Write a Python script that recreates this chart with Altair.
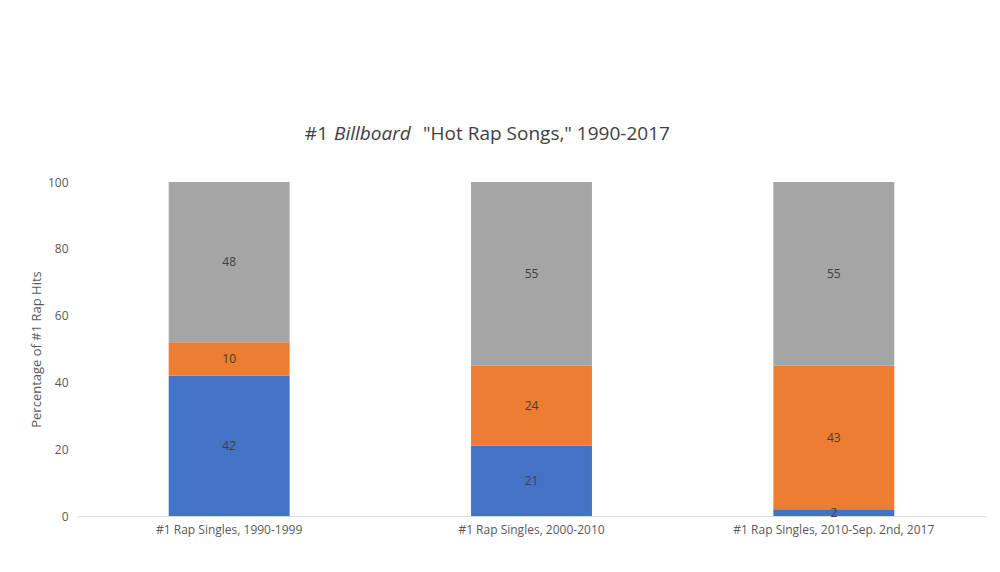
import altair as alt
import pandas as pd

categories = ["#1 Rap Singles, 1990-1999", "#1 Rap Singles, 2000-2010", "#1 Rap Singles, 2010-Sep. 2nd, 2017"]
series = ["Tracks released by a rap group or collective",
          "Tracks released by a solo rapper but featuring at least one guest rapper",
          "Tracks released by a solo rapper"]
group_vals = [42, 21, 2]
feat_vals = [10, 24, 43]
solo_vals = [48, 55, 55]
colors = ["#4472c4", "#ed7d31", "#a5a5a5"]

rows = []
for i, c in enumerate(categories):
    for j, (s, v) in enumerate(zip(series, [group_vals[i], feat_vals[i], solo_vals[i]])):
        rows.append({"cat": c, "series": s, "value": v, "ord": j})
df = pd.DataFrame(rows)

base = alt.Chart(df).transform_stack(
    stack="value", groupby=["cat"], as_=["y0", "y1"], sort=[alt.SortField("ord")]
).transform_calculate(mid="(datum.y0+datum.y1)/2")

xenc = alt.X("cat:N", sort=categories, title=None,
             axis=alt.Axis(labelAngle=0, labelFontSize=12, labelColor="#595959", domainColor="#d9d9d9",
                           ticks=False, labelPadding=8, labelFont="Open Sans", labelLimit=400),
             scale=alt.Scale(paddingInner=0.6, paddingOuter=0.3))

bars = base.mark_bar().encode(
    x=xenc,
    y=alt.Y("y0:Q", scale=alt.Scale(domain=[0, 100]), title="Percentage of #1 Rap Hits",
            axis=alt.Axis(values=[0, 20, 40, 60, 80, 100], grid=False, domain=False, ticks=False,
                          labelFontSize=12, labelColor="#595959", titleFontSize=13,
                          titleColor="#595959", titleFontWeight="normal", labelPadding=10,
                          labelFont="Open Sans", titleFont="Open Sans")),
    y2="y1:Q",
    color=alt.Color("series:N", sort=series, scale=alt.Scale(domain=series, range=colors),
                    legend=alt.Legend(title=None, orient="none", legendX=305, legendY=390,
                                      direction="vertical", rowPadding=6,
                                      symbolType="square", labelFontSize=12, labelColor="#404040",
                                      labelFont="Open Sans", labelLimit=600)),
)
labels = base.mark_text(fontSize=12, color="#404040", font="Open Sans").encode(
    x=alt.X("cat:N", sort=categories), y="mid:Q", text="value:Q")

tdf = pd.DataFrame({"t": [0]})
tstyle = dict(fontSize=19, color="#404040", font="Open Sans", baseline="middle")
t1 = alt.Chart(tdf).mark_text(align="right", text="#1", **tstyle).encode(x=alt.value(250), y=alt.value(-48))
t2 = alt.Chart(tdf).mark_text(align="left", text="Billboard", fontStyle="italic", **tstyle).encode(x=alt.value(256), y=alt.value(-48))
t3 = alt.Chart(tdf).mark_text(align="left", text='"Hot Rap Songs," 1990-2017', **tstyle).encode(x=alt.value(345), y=alt.value(-48))

chart = (bars + labels + t1 + t2 + t3).properties(
    width=907, height=334,
    padding={"top": 117, "left": 22, "right": 5, "bottom": 5},
).configure_view(stroke=None)

chart.save("out.html", embed_options={"renderer": "svg", "actions": False})
